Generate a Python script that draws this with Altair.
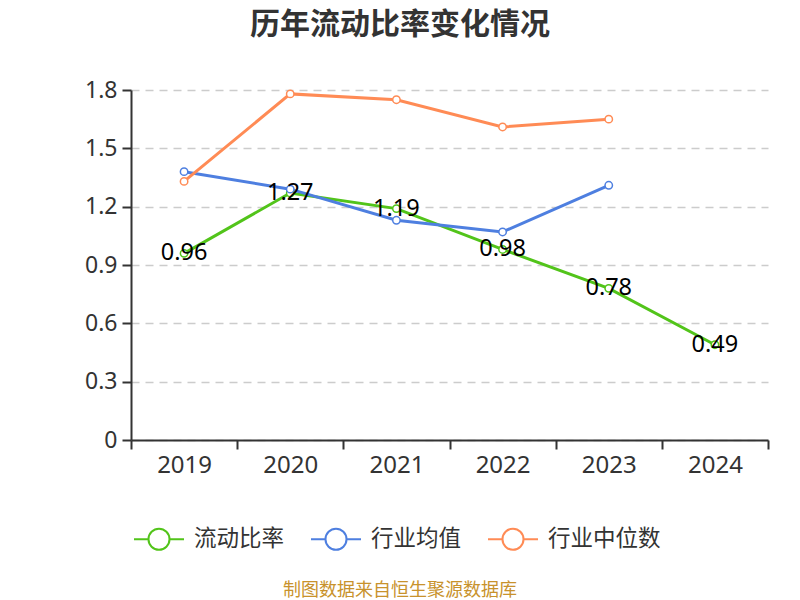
import altair as alt
import pandas as pd

years = ["2019", "2020", "2021", "2022", "2023", "2024"]
current_ratio = [0.96, 1.27, 1.19, 0.98, 0.78, 0.49]
industry_avg = [1.38, 1.29, 1.13, 1.07, 1.31, None]
industry_median = [1.33, 1.78, 1.75, 1.61, 1.65, None]
series_names = ["流动比率", "行业均值", "行业中位数"]
series_colors = ["#52c41a", "#4e7fe0", "#ff8b55"]
y_ticks = [0, 0.3, 0.6, 0.9, 1.2, 1.5, 1.8]
title_text = "历年流动比率变化情况"
source_text = "制图数据来自恒生聚源数据库"

FONT = "'Noto Sans', 'Noto Sans CJK SC', sans-serif"
CJK = "'Noto Sans CJK SC', sans-serif"

rows = []
for name, vals in zip(series_names, [current_ratio, industry_avg, industry_median]):
    for yr, v in zip(years, vals):
        if v is not None:
            rows.append({"year": yr, "value": v, "series": name})
df = pd.DataFrame(rows)

x_enc = alt.X(
    "year:O",
    scale=alt.Scale(type="band", domain=years, paddingInner=0, paddingOuter=0),
    axis=alt.Axis(
        title=None, labelAngle=0, tickBand="extent", grid=False,
        labelFont=FONT, labelFontSize=24, labelColor="#333333", labelPadding=4,
        domainColor="#333333", domainWidth=2, tickColor="#333333", tickWidth=2, tickSize=9,
    ),
)
y_enc = alt.Y(
    "value:Q",
    scale=alt.Scale(domain=[0, 1.8], nice=False, zero=True),
    axis=alt.Axis(
        title=None, values=y_ticks, format="~g",
        labelFont=FONT, labelFontSize=23, labelColor="#333333", labelPadding=5,
        domainColor="#333333", domainWidth=2, tickColor="#333333", tickWidth=2, tickSize=9,
        grid=True, gridColor="#cccccc", gridDash=[8, 6], gridWidth=1.5,
    ),
)

SYMBOL = "M-1,0L-0.42,0M0.42,0A0.42,0.42,0,1,1,-0.42,0A0.42,0.42,0,1,1,0.42,0M0.42,0L1,0"

color_enc = alt.Color(
    "series:N",
    scale=alt.Scale(domain=series_names, range=series_colors),
    legend=alt.Legend(
        orient="none", legendX=2, legendY=423, direction="horizontal", title=None,
        symbolType=SYMBOL, symbolSize=2500, symbolStrokeWidth=2, symbolFillColor="white",
        labelFont=CJK, labelFontSize=22.5, labelColor="#333333", labelOffset=9,
        gridAlign="all", columnPadding=0,
    ),
)

base = alt.Chart(df)

lines = base.mark_line(strokeWidth=3).encode(x=x_enc, y=y_enc, color=color_enc)

points = base.mark_point(filled=True, fill="white", size=55, strokeWidth=1.5, opacity=1).encode(
    x=x_enc, y=y_enc,
    stroke=alt.Stroke("series:N", scale=alt.Scale(domain=series_names, range=series_colors), legend=None),
)

labels = base.transform_filter(alt.datum.series == series_names[0]).mark_text(
    font=FONT, fontSize=23.5, color="black", align="center", baseline="middle"
).encode(x=x_enc, y=y_enc, text=alt.Text("value:Q", format=".2f"))

title = alt.Chart(pd.DataFrame({"t": [title_text]})).mark_text(
    font=CJK, fontSize=30, fontWeight="bold", color="#333333", align="center", baseline="middle"
).encode(text="t:N", x=alt.value(269), y=alt.value(-65))

source = alt.Chart(pd.DataFrame({"t": [source_text]})).mark_text(
    font=CJK, fontSize=18, color="#c8922c", align="center", baseline="middle"
).encode(text="t:N", x=alt.value(269), y=alt.value(501))

chart = alt.layer(lines, points, labels, title, source).properties(
    width=637,
    height=350,
    autosize=alt.AutoSizeParams(type="none"),
    padding={"left": 123, "top": 82, "right": 24, "bottom": 160},
).configure_view(stroke=None)

chart.save("out.html", embed_options={"renderer": "svg", "actions": False})
